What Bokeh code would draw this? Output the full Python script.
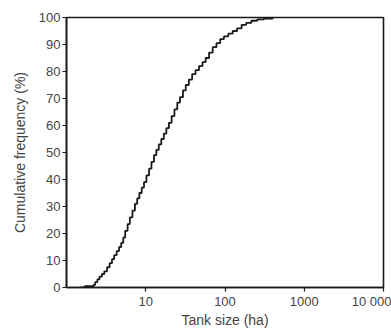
from bokeh.plotting import figure
from bokeh.models import Range1d, FixedTicker
from bokeh.embed import file_html
from bokeh.resources import INLINE

tank_size_ha = [1.5, 1.7, 2.2, 2.3, 2.45, 2.6, 2.8, 3.0, 3.25, 3.5, 3.75, 4.0, 4.3, 4.6,
                4.9, 5.2, 5.5, 5.9, 6.3, 6.8, 7.3, 7.8, 8.3, 8.9, 9.5, 10.2, 11.0, 11.8,
                12.7, 13.6, 14.6, 15.7, 16.9, 18.2, 19.6, 21.2, 23, 25, 27, 29.5, 32, 35,
                38.5, 42.5, 47, 52, 57, 63, 70, 78, 87, 97, 110, 125, 142, 162, 185, 215,
                255, 310, 400]
cum_freq_pct = [0, 0.5, 1, 2, 3, 4, 5, 6, 7.5, 9, 10.5, 12, 13.5, 15,
                16.5, 18.5, 21, 23.5, 26, 28.5, 31, 33, 35, 37, 39, 41.5, 44, 46.5,
                49, 51, 53, 55, 57, 59, 61, 63.5, 66, 68.5, 70.5, 73, 75, 77,
                79, 80.5, 82, 83.5, 85, 87, 89, 90.5, 92, 93, 94, 95, 96, 97.3, 98, 98.8,
                99.3, 99.6, 100]

x_ticks = [10, 100, 1000, 10000]
x_tick_labels = {10: "10", 100: "100", 1000: "1000", 10000: "10 000"}
y_ticks = [0, 10, 20, 30, 40, 50, 60, 70, 80, 90, 100]

FONT = "Liberation Sans"
TXT = "#444444"

p = figure(width=391, height=331, x_axis_type="log",
           x_range=Range1d(1, 10000), y_range=Range1d(0, 100),
           output_backend="svg", toolbar_location=None,
           min_border_left=66, min_border_right=8, min_border_top=17, min_border_bottom=44)

p.step(tank_size_ha, cum_freq_pct, mode="after", line_color="#1a1a1a", line_width=1.8)

p.xgrid.visible = False
p.ygrid.visible = False
p.outline_line_color = "#1a1a1a"
p.outline_line_width = 1.6
p.background_fill_color = "white"
p.border_fill_color = "white"

for ax in (p.xaxis[0], p.yaxis[0]):
    ax.axis_line_color = "#1a1a1a"
    ax.axis_line_width = 1.6
    ax.major_tick_line_color = "#1a1a1a"
    ax.major_tick_line_width = 1.2
    ax.major_tick_in = 0
    ax.major_tick_out = 4
    ax.minor_tick_line_color = None
    ax.major_label_text_font = FONT
    ax.major_label_text_font_size = "13px"
    ax.major_label_text_color = TXT
    ax.axis_label_text_font = FONT
    ax.axis_label_text_font_size = "14px"
    ax.axis_label_text_font_style = "normal"
    ax.axis_label_text_color = TXT

p.xaxis.ticker = FixedTicker(ticks=x_ticks)
p.xaxis.major_label_overrides = x_tick_labels
p.xaxis.axis_label = "Tank size (ha)"
p.xaxis.major_label_standoff = 2
p.xaxis.axis_label_standoff = 0

p.yaxis.ticker = FixedTicker(ticks=y_ticks)
p.yaxis.axis_label = "Cumulative frequency (%)"
p.yaxis.major_label_standoff = 2
p.yaxis.axis_label_standoff = 8

open("out.html", "w").write(file_html(p, INLINE))
